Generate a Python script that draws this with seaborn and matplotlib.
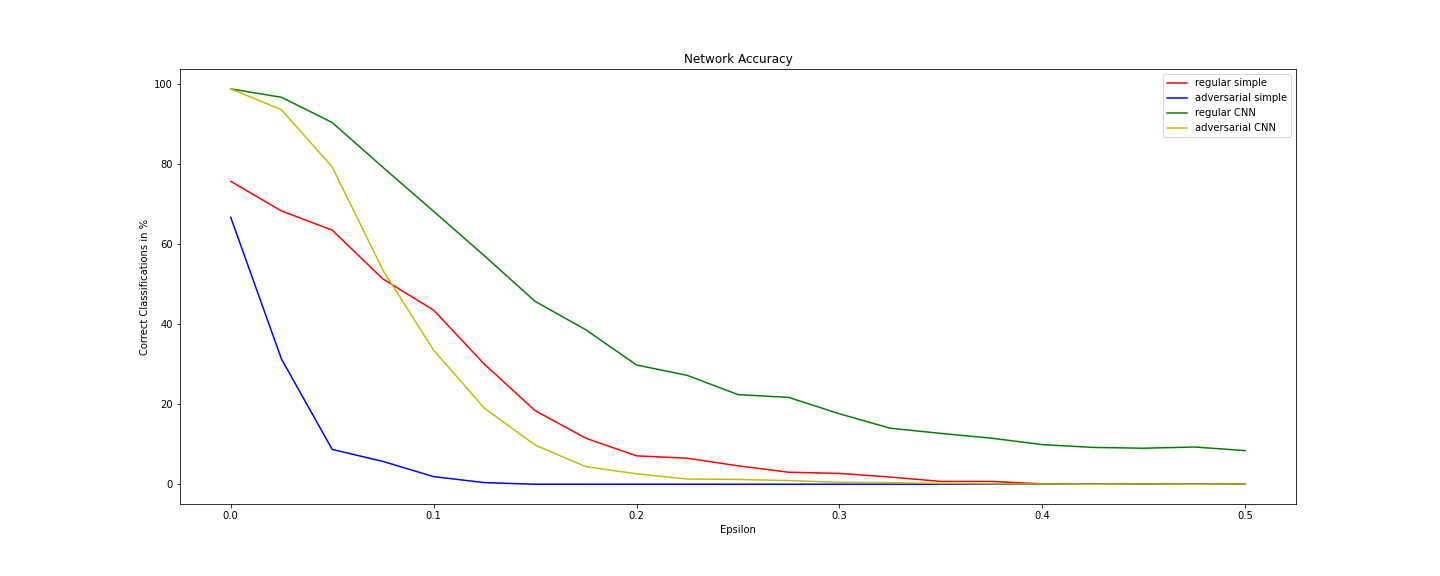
import numpy as np
import pandas as pd
import matplotlib
matplotlib.use('Agg')
import matplotlib.pyplot as plt
import seaborn as sns

epsilons = [0.0, 0.025, 0.05, 0.075, 0.1, 0.125, 0.15, 0.175, 0.2, 0.225, 0.25,
            0.275, 0.3, 0.325, 0.35, 0.375, 0.4, 0.425, 0.45, 0.475, 0.5]

regular_simple = [75.7, 68.3, 63.5, 51.3, 43.5, 30.0, 18.4, 11.5, 7.1, 6.5, 4.6,
                  3.0, 2.7, 1.8, 0.7, 0.7, 0.1, 0.0, 0.05, 0.0, 0.05]
adversarial_simple = [66.7, 31.3, 8.7, 5.7, 1.9, 0.4, 0.0, 0.0, 0.0, 0.0, 0.0,
                      0.0, 0.0, 0.0, 0.0, 0.0, 0.0, 0.0, 0.0, 0.0, 0.0]
regular_cnn = [98.8, 96.7, 90.4, 79.2, 68.2, 57.1, 45.7, 38.6, 29.8, 27.2, 22.4,
               21.7, 17.6, 14.0, 12.7, 11.5, 9.9, 9.2, 9.0, 9.3, 8.4]
adversarial_cnn = [98.8, 93.6, 79.3, 53.5, 33.5, 19.0, 9.8, 4.4, 2.6, 1.3, 1.2,
                   0.9, 0.5, 0.4, 0.2, 0.1, 0.05, 0.0, 0.05, 0.0, 0.05]

series_names = ['regular simple', 'adversarial simple', 'regular CNN', 'adversarial CNN']
colores = ['r', 'b', 'g', 'y']

df = pd.DataFrame({
    'Epsilon': epsilons * 4,
    'acc': regular_simple + adversarial_simple + regular_cnn + adversarial_cnn,
    'net': [n for n in series_names for _ in epsilons],
})

plt.rcParams.update({'font.size': 10})

fig = plt.figure(figsize=(20, 8), dpi=72)
ax = fig.add_subplot(111)
fig.subplots_adjust(left=0.125, right=0.9, bottom=0.125, top=0.88)

sns.lineplot(data=df, x='Epsilon', y='acc', hue='net', hue_order=series_names,
             palette=dict(zip(series_names, colores)), ax=ax, linewidth=1.5)

ax.set_title('Network Accuracy')
ax.set_xlabel('Epsilon')
ax.set_ylabel('Correct Classifications in %')
ax.legend(loc='upper right')

plt.savefig('out.png', dpi=72)
plt.close()
